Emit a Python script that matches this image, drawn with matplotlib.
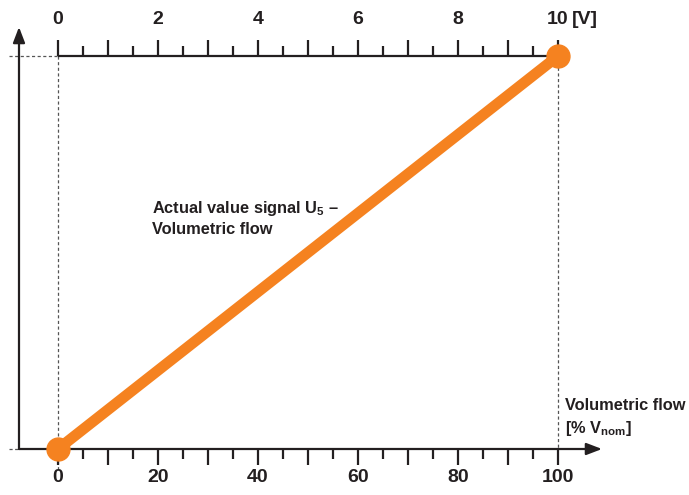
import matplotlib
matplotlib.use("Agg")
import matplotlib.pyplot as plt

# data: volumetric flow in % of V_nom vs. actual value signal U5 in volts
flow = [0, 100]
signal = [0, 10]

flow_major = [0, 20, 40, 60, 80, 100]
flow_ticks = list(range(0, 101, 5))
volt_major = [0, 2, 4, 6, 8, 10]
volt_ticks = [v / 2 for v in range(0, 21)]

orange = "#F58220"
dark = "#231F20"
grey = "#555555"

plt.rcParams["font.family"] = ["Liberation Sans", "DejaVu Sans"]
plt.rcParams["font.weight"] = "bold"
plt.rcParams["mathtext.fontset"] = "custom"
plt.rcParams["mathtext.rm"] = "Liberation Sans:bold"
plt.rcParams["mathtext.it"] = "Liberation Sans:bold"
plt.rcParams["mathtext.bf"] = "Liberation Sans:bold"

W, H = 689, 495
X0, X100 = 58, 558      # pixel of flow 0 / 100
Y0, Y10 = 449, 56       # pixel of signal 0 / 10
sx = (X100 - X0) / 100.0
sy = (Y0 - Y10) / 10.0


def px(x):
    return (x - X0) / sx


def py(y):
    return (Y0 - y) / sy


fig = plt.figure(figsize=(W / 100, H / 100), dpi=100)
ax = fig.add_axes([0, 0, 1, 1])
ax.set_xlim(px(0), px(W))
ax.set_ylim(py(H), py(0))
ax.axis("off")

lw_axis = 1.6
top = signal[-1]

# dashed guides
ax.plot([px(9), flow[0]], [top, top], ls=(0, (2.5, 2)), lw=0.9, color=grey)
ax.plot([px(9), px(19)], [0, 0], ls=(0, (2.5, 2)), lw=0.9, color=grey)
ax.plot([flow[0], flow[0]], [top, py(472)], ls=(0, (2.5, 2)), lw=0.9, color=grey)
ax.plot([flow[-1], flow[-1]], [top, 0], ls=(0, (2.5, 2)), lw=0.9, color=grey)

# left axis with arrow
ax.annotate("", xy=(px(19), py(27)), xytext=(px(19), 0),
            arrowprops=dict(arrowstyle="-|>,head_length=0.47,head_width=0.18",
                            mutation_scale=20, lw=lw_axis, color=dark,
                            shrinkA=0, shrinkB=0))
# bottom axis with arrow
ax.annotate("", xy=(px(602), 0), xytext=(px(19), 0),
            arrowprops=dict(arrowstyle="-|>,head_length=0.47,head_width=0.18",
                            mutation_scale=20, lw=lw_axis, color=dark,
                            shrinkA=0, shrinkB=0))
# top axis (volts)
ax.plot([flow[0], flow[-1]], [top, top], lw=lw_axis, color=dark,
        solid_capstyle="butt")

major_len = 16 / sy
minor_len = 10 / sy

for f in flow_ticks:
    ln = major_len if f % 10 == 0 else minor_len
    ax.plot([f, f], [0, -ln], lw=lw_axis, color=dark, solid_capstyle="butt")
for f in flow_major:
    ax.text(f, py(478), str(f), ha="center", va="center", fontsize=14,
            fontweight="bold", color=dark)

for v in volt_ticks:
    ln = major_len if v == int(v) else minor_len
    x = v * 100 / top
    ax.plot([x, x], [top, top + ln], lw=lw_axis, color=dark,
            solid_capstyle="butt")
for v in volt_major:
    ax.text(v * 100 / top, py(20), str(v), ha="center", va="center",
            fontsize=14, fontweight="bold", color=dark)
ax.text(px(572), py(20), "[V]", ha="left", va="center", fontsize=14,
        fontweight="bold", color=dark)

# the characteristic line
ax.plot(flow, signal, color=orange, lw=7.8, solid_capstyle="round",
        marker="o", markersize=16.5, zorder=5)

fs = 11.8
ax.text(px(152), py(208), "Actual value signal U$_5$ \u2013", ha="left",
        va="center", fontsize=fs, fontweight="bold", color=dark)
ax.text(px(152), py(230), "Volumetric flow", ha="left", va="center",
        fontsize=fs, fontweight="bold", color=dark)

ax.text(px(565), py(406), "Volumetric flow", ha="left", va="center",
        fontsize=fs, fontweight="bold", color=dark)
ax.text(px(565), py(428), "[% V$_{\\mathrm{nom}}$]", ha="left", va="center",
        fontsize=fs, fontweight="bold", color=dark)

fig.savefig("out.png", dpi=100)
